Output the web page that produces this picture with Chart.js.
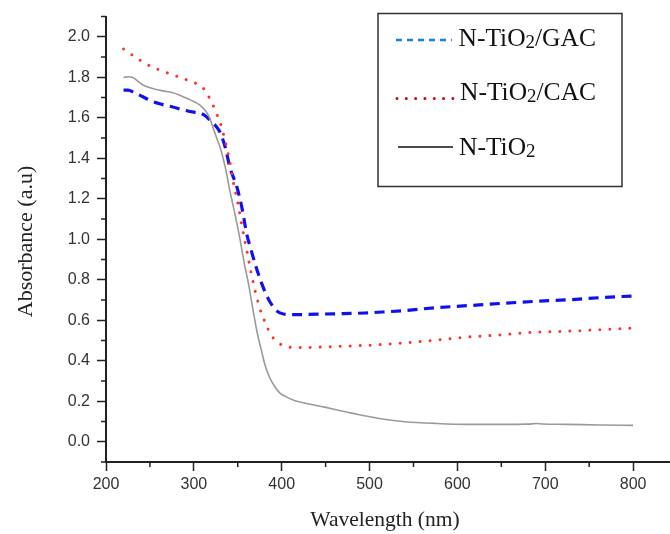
<!DOCTYPE html>
<html>
<head>
<meta charset="utf-8">
<script src="https://cdn.jsdelivr.net/npm/chart.js@4.4.1/dist/chart.umd.min.js"></script>
<style>
  html, body { margin: 0; padding: 0; background: #ffffff; }
  #wrap { width: 670px; height: 534px; position: relative; }
</style>
</head>
<body>
<div id="wrap"><canvas id="c" width="670" height="534"></canvas></div>
<script>
// ---------- data ----------
const seriesNames = ['N-TiO2/GAC', 'N-TiO2/CAC', 'N-TiO2'];

const gacWavelength = [220, 225, 232, 242, 252, 262, 275, 288, 300, 307, 313, 318, 324, 330, 336, 341, 349, 355, 360, 365, 370, 377, 384, 390, 394, 402, 415, 430, 449, 470, 495, 515, 537, 573, 611, 649, 687, 725, 763, 800];
const gacAbsorbance = [1.737, 1.737, 1.725, 1.704, 1.682, 1.668, 1.655, 1.639, 1.628, 1.624, 1.610, 1.590, 1.565, 1.527, 1.450, 1.356, 1.258, 1.150, 1.030, 0.950, 0.875, 0.785, 0.712, 0.668, 0.647, 0.631, 0.628, 0.629, 0.631, 0.633, 0.636, 0.641, 0.647, 0.661, 0.672, 0.683, 0.693, 0.701, 0.712, 0.720];

const cacWavelength = [220, 235, 251, 262, 274, 286, 297, 307, 312, 316, 321, 326, 330, 336, 341, 345, 350, 355, 360, 365, 370, 374, 378, 382, 387, 395, 405, 418, 440, 470, 500, 535, 573, 611, 649, 687, 725, 763, 800];
const cacAbsorbance = [1.940, 1.895, 1.854, 1.835, 1.815, 1.797, 1.779, 1.760, 1.740, 1.712, 1.670, 1.620, 1.575, 1.480, 1.380, 1.280, 1.180, 1.060, 0.950, 0.840, 0.740, 0.675, 0.622, 0.582, 0.533, 0.493, 0.470, 0.465, 0.467, 0.472, 0.477, 0.487, 0.501, 0.517, 0.528, 0.541, 0.546, 0.554, 0.561];

const tioWavelength = [220, 225, 230, 242, 253, 265, 275, 284, 295, 307, 314, 318, 322, 326, 330, 336, 341, 347, 352, 358, 362, 367, 372, 377, 381, 386, 392, 398, 404, 415, 430, 449, 467, 487, 505, 525, 540, 573, 611, 649, 680, 690, 697, 725, 763, 800];
const tioAbsorbance = [1.800, 1.803, 1.800, 1.762, 1.745, 1.733, 1.725, 1.712, 1.690, 1.663, 1.630, 1.600, 1.550, 1.500, 1.453, 1.350, 1.240, 1.120, 1.013, 0.867, 0.785, 0.660, 0.541, 0.450, 0.379, 0.320, 0.273, 0.240, 0.224, 0.203, 0.188, 0.171, 0.153, 0.135, 0.120, 0.106, 0.099, 0.091, 0.086, 0.086, 0.087, 0.090, 0.088, 0.086, 0.083, 0.081];

const xTickLabels = ['200', '300', '400', '500', '600', '700', '800'];
const xMinorTicks = [250, 350, 450, 550, 650, 750];
const yTickLabels = ['0.0', '0.2', '0.4', '0.6', '0.8', '1.0', '1.2', '1.4', '1.6', '1.8', '2.0'];
const yMinorTicks = [-0.1, 0.1, 0.3, 0.5, 0.7, 0.9, 1.1, 1.3, 1.5, 1.7, 1.9, 2.1];

const xTitle = 'Wavelength (nm)';
const yTitle = 'Absorbance (a.u)';

// ---------- helpers ----------
function pts(xs, ys) { return xs.map((x, i) => ({ x: x, y: ys[i] })); }

const SERIF = '"Liberation Serif", "Times New Roman", serif';

function drawChem(ctx, text, x, y, size) {
  // draws digits that follow a letter as subscripts
  const parts = text.match(/([A-Za-z\-\/]+|\d+)/g);
  let cx = x;
  let prevLetter = false;
  parts.forEach(p => {
    if (/^\d+$/.test(p) && prevLetter) {
      ctx.font = (size * 0.74).toFixed(1) + 'px ' + SERIF;
      ctx.fillText(p, cx, y + size * 0.08);
      cx += ctx.measureText(p).width;
      prevLetter = false;
    } else {
      ctx.font = size + 'px ' + SERIF;
      ctx.fillText(p, cx, y);
      cx += ctx.measureText(p).width;
      prevLetter = true;
    }
  });
}

const minorTickPlugin = {
  id: 'minorTicks',
  afterDraw(chart) {
    const ctx = chart.ctx;
    const xs = chart.scales.x, ys = chart.scales.y;
    const area = chart.chartArea;
    ctx.save();
    ctx.strokeStyle = '#222';
    ctx.lineWidth = 1.5;
    ctx.beginPath();
    xMinorTicks.forEach(v => {
      const px = xs.getPixelForValue(v);
      ctx.moveTo(px, area.bottom);
      ctx.lineTo(px, area.bottom + 5);
    });
    yMinorTicks.forEach(v => {
      const py = ys.getPixelForValue(v);
      ctx.moveTo(area.left, py);
      ctx.lineTo(area.left - 5, py);
    });
    ctx.stroke();
    ctx.restore();
  }
};

const axisTitlePlugin = {
  id: 'axisTitles',
  afterDraw(chart) {
    const ctx = chart.ctx;
    ctx.save();
    ctx.fillStyle = '#222';
    ctx.textAlign = 'center';
    ctx.textBaseline = 'middle';
    ctx.font = '21.5px ' + SERIF;
    ctx.fillText(xTitle, 385, 520);
    ctx.translate(26, 241.5);
    ctx.rotate(-Math.PI / 2);
    ctx.font = '22px ' + SERIF;
    ctx.fillText(yTitle, 0, 0);
    ctx.restore();
  }
};

const legendPlugin = {
  id: 'boxLegend',
  afterDraw(chart) {
    const ctx = chart.ctx;
    ctx.save();
    ctx.strokeStyle = '#333';
    ctx.lineWidth = 1.5;
    ctx.strokeRect(378, 13.5, 244, 173);

    // GAC sample
    ctx.strokeStyle = '#1f7fd6';
    ctx.lineWidth = 2.5;
    ctx.setLineDash([6, 5]);
    ctx.beginPath(); ctx.moveTo(396, 40); ctx.lineTo(452, 40); ctx.stroke();
    // CAC sample
    ctx.strokeStyle = '#d0001a';
    ctx.lineWidth = 3;
    ctx.lineCap = 'round';
    ctx.setLineDash([0.01, 9.3]);
    ctx.beginPath(); ctx.moveTo(397, 98.5); ctx.lineTo(454, 98.5); ctx.stroke();
    // N-TiO2 sample
    ctx.setLineDash([]);
    ctx.lineCap = 'butt';
    ctx.strokeStyle = '#111';
    ctx.lineWidth = 1.5;
    ctx.beginPath(); ctx.moveTo(398, 147); ctx.lineTo(453, 147); ctx.stroke();

    ctx.fillStyle = '#111';
    ctx.textBaseline = 'alphabetic';
    drawChem(ctx, seriesNames[0], 458.5, 45.5, 25.5);
    drawChem(ctx, seriesNames[1], 460, 100, 25.5);
    drawChem(ctx, seriesNames[2], 459, 155, 25.5);
    ctx.restore();
  }
};

const tickFont = { family: '"Liberation Sans", Arial, sans-serif', size: 16 };

new Chart(document.getElementById('c'), {
  type: 'line',
  data: {
    datasets: [
      {
        label: seriesNames[2],
        data: pts(tioWavelength, tioAbsorbance),
        borderColor: '#9a9a9a',
        borderWidth: 1.6,
        pointRadius: 0,
        cubicInterpolationMode: 'monotone',
        fill: false
      },
      {
        label: seriesNames[1],
        data: pts(cacWavelength, cacAbsorbance),
        borderColor: '#ff3030',
        borderWidth: 3,
        borderDash: [0.01, 10],
        borderCapStyle: 'round',
        pointRadius: 0,
        cubicInterpolationMode: 'monotone',
        fill: false
      },
      {
        label: seriesNames[0],
        data: pts(gacWavelength, gacAbsorbance),
        borderColor: '#1010f0',
        borderWidth: 3.2,
        borderDash: [10, 6.5],
        pointRadius: 0,
        cubicInterpolationMode: 'monotone',
        fill: false
      }
    ]
  },
  options: {
    responsive: false,
    animation: false,
    layout: { padding: { top: 10, right: 0, bottom: 0, left: 0 } },
    plugins: { legend: { display: false }, tooltip: { enabled: false } },
    scales: {
      x: {
        type: 'linear',
        min: 200,
        max: 842,
        afterFit(scale) { scale.height = 72; },
        afterBuildTicks(scale) { scale.ticks = xTickLabels.map(l => ({ value: parseFloat(l) })); },
        ticks: {
          font: tickFont,
          color: '#333',
          padding: 4,
          maxRotation: 0,
          autoSkip: false,
          callback: (v) => xTickLabels.find(l => parseFloat(l) === v) || ''
        },
        grid: { display: true, drawOnChartArea: false, drawTicks: true, tickLength: 9, tickWidth: 1.5, tickColor: '#222' },
        border: { display: true, color: '#222', width: 2 },
        title: { display: false, text: xTitle }
      },
      y: {
        type: 'linear',
        min: -0.1,
        max: 2.1,
        afterFit(scale) { scale.width = 106; },
        afterBuildTicks(scale) { scale.ticks = yTickLabels.map(l => ({ value: parseFloat(l) })); },
        ticks: {
          font: tickFont,
          color: '#333',
          padding: 7,
          autoSkip: false,
          callback: (v) => yTickLabels.find(l => Math.abs(parseFloat(l) - v) < 1e-9) || ''
        },
        grid: { display: true, drawOnChartArea: false, drawTicks: true, tickLength: 9, tickWidth: 1.5, tickColor: '#222' },
        border: { display: true, color: '#222', width: 2 },
        title: { display: false, text: yTitle }
      }
    }
  },
  plugins: [minorTickPlugin, axisTitlePlugin, legendPlugin]
});
</script>
</body>
</html>
